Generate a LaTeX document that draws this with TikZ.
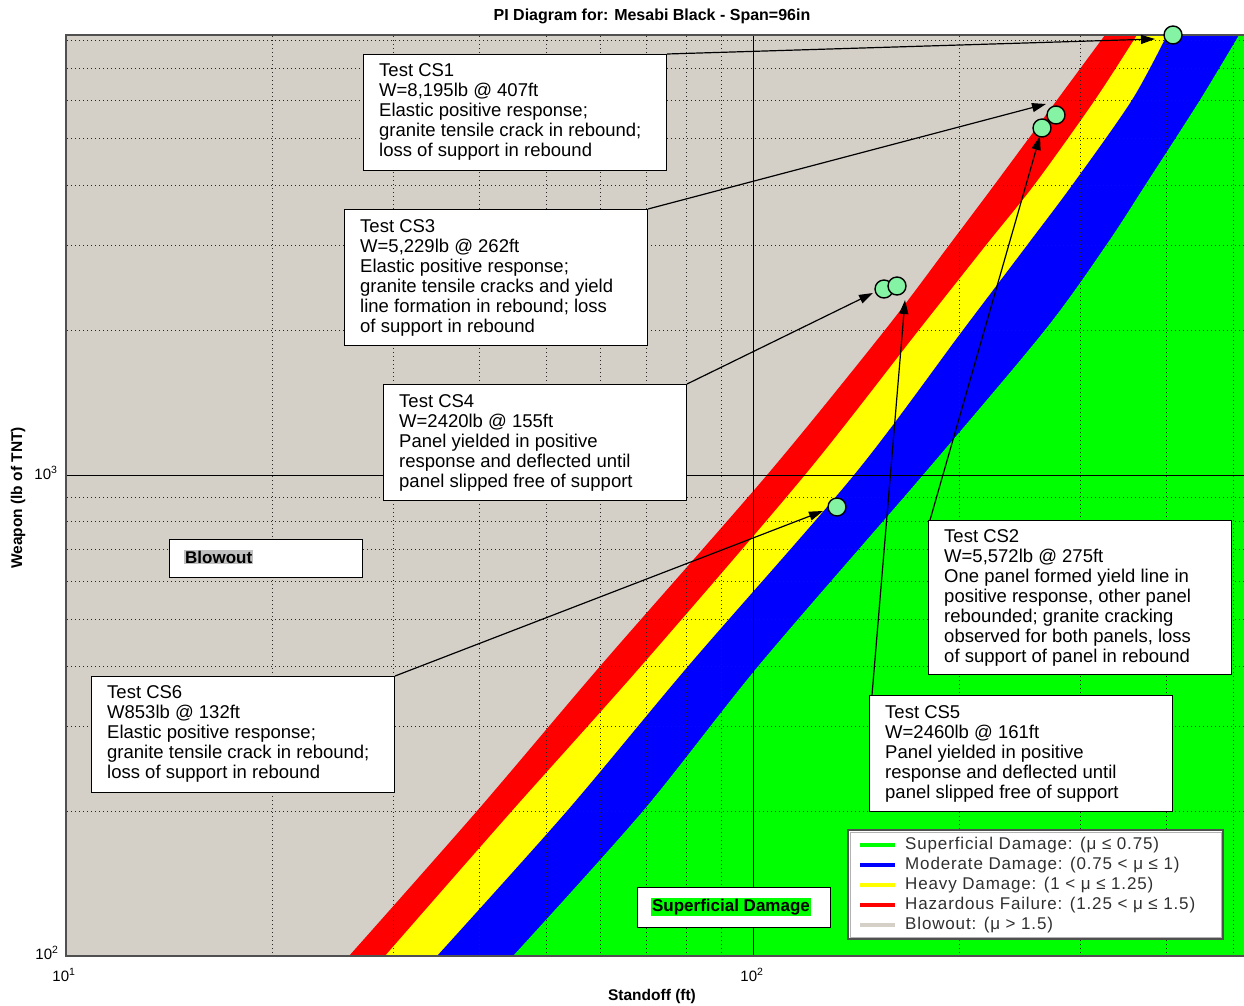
\documentclass[tikz,border=0pt]{standalone}
\usepackage{fontspec}
\setmainfont{Liberation Sans}
\usetikzlibrary{arrows.meta}
\definecolor{bgrey}{HTML}{D4D0C8}
\definecolor{pgreen}{HTML}{00FF00}
\definecolor{pred}{HTML}{FF0000}
\definecolor{pyellow}{HTML}{FFFF00}
\definecolor{pblue}{HTML}{0000FF}
\definecolor{mint}{HTML}{84F4A4}
\definecolor{frame}{HTML}{505050}
\definecolor{legtext}{HTML}{303030}
\definecolor{hlgrey}{HTML}{C0C0C0}
\tikzset{
  gridl/.style={black!85, line width=0.9pt, dash pattern=on 1pt off 3pt},
  majgrid/.style={black, line width=1pt},
  infobox/.style={draw=black, fill=white, line width=1pt, rectangle, inner sep=0pt, anchor=north west},
  infotext/.style={inner sep=0pt, anchor=north west, align=left, font=\fontsize{18.5}{20}\selectfont},
  leader/.style={black, line width=1.2pt, -{Triangle[length=14pt,width=9pt]}},
  marker/.style={circle, draw=black, fill=mint, line width=1.4pt, minimum size=18pt, inner sep=0pt},
  legline/.style={line width=4pt},
  legtxt/.style={anchor=west, inner sep=0pt, text=legtext, font=\fontsize{17}{20}\selectfont\addfontfeatures{LetterSpace=5}},
  ticklab/.style={inner sep=0pt, font=\fontsize{15}{16}\selectfont},
  axlab/.style={inner sep=0pt, font=\fontsize{15.5}{17}\selectfont\bfseries}
}
\begin{document}
\begin{tikzpicture}[x=1pt,y=-1pt]
\useasboundingbox (0,0) rectangle (1244,1005);
\fill[white] (0,0) rectangle (1244,1005);
% plot area and damage bands
\fill[bgrey] (66,35) rectangle (1244,956);
\fill[pred] plot[smooth, tension=0.5] coordinates {(349,956) (477,811) (602,664) (767,475) (885,330) (950,244) (995,184) (1057,100) (1105,35)} -- (1244,35) -- (1244,956) -- cycle;
\fill[pyellow] plot[smooth, tension=0.5] coordinates {(385,956) (512,811) (643,664) (805,475) (919,330) (987,244) (1035,184) (1095,100) (1137,35)} -- (1244,35) -- (1244,956) -- cycle;
\fill[pblue] plot[smooth, tension=0.5] coordinates {(437,956) (567,811) (690,664) (854,475) (963,330) (1028,244) (1073,184) (1132,100) (1167,35)} -- (1244,35) -- (1244,956) -- cycle;
\fill[pgreen] plot[smooth, tension=0.5] coordinates {(513,956) (643,811) (760,664) (923,475) (1045,330) (1107,244) (1146,184) (1200,100) (1239,35)} -- (1244,35) -- (1244,956) -- cycle;
% grid
\foreach \gx in {272.8,393.8,479.6,546.2,600.6,646.6,686.4,721.6,959.8,1080.8,1166.6,1233.2}
  \draw[gridl] (\gx,36) -- (\gx,955);
\foreach \gy in {811.2,726.5,666.4,619.8,581.7,549.5,521.6,497.0,330.2,245.5,185.4,138.8,100.7,68.5,40.6}
  \draw[gridl] (67,\gy) -- (1244,\gy);
\draw[majgrid] (753,35) -- (753,956);
\draw[majgrid] (66,475) -- (1244,475);
% frame
\draw[frame, line width=2pt] (1244,35) -- (66,35) -- (66,956) -- (1244,956);
% title and axis labels
\node[inner sep=0pt, font=\fontsize{16}{18}\selectfont\bfseries] (title) at (652,16) {PI Diagram for: Mesabi Black - Span=96in};
\node[axlab] (xlab) at (652,996) {Standoff (ft)};
\node[axlab, rotate=90] (ylab) at (18,498) {Weapon (lb of TNT)};
\node[ticklab] (tx1) at (64,975) {10\textsuperscript{1}};
\node[ticklab] (tx2) at (752,975) {10\textsuperscript{2}};
\node[ticklab] (ty3) at (46,473) {10\textsuperscript{3}};
\node[ticklab] (ty2) at (47,953) {10\textsuperscript{2}};
% annotation boxes
\node[infobox, minimum width=303pt, minimum height=116pt] (cs1) at (363,54) {};
\node[infotext] (cs1t) at (379,63.4) {Test CS1\\W=8,195lb @ 407ft\\Elastic positive response;\\granite tensile crack in rebound;\\loss of support in rebound};
\node[infobox, minimum width=303pt, minimum height=136pt] (cs3) at (344,209) {};
\node[infotext] (cs3t) at (360,219.4) {Test CS3\\W=5,229lb @ 262ft\\Elastic positive response;\\granite tensile cracks and yield\\line formation in rebound; loss\\of support in rebound};
\node[infobox, minimum width=303pt, minimum height=116pt] (cs4) at (383,384) {};
\node[infotext] (cs4t) at (399,394.4) {Test CS4\\W=2420lb @ 155ft\\Panel yielded in positive\\response and deflected until\\panel slipped free of support};
\node[infobox, minimum width=303pt, minimum height=116pt] (cs6) at (91,676) {};
\node[infotext] (cs6t) at (107,685.4) {Test CS6\\W853lb @ 132ft\\Elastic positive response;\\granite tensile crack in rebound;\\loss of support in rebound};
\node[infobox, minimum width=303pt, minimum height=154pt] (cs2) at (928,520) {};
\node[infotext] (cs2t) at (944,529.4) {Test CS2\\W=5,572lb @ 275ft\\One panel formed yield line in\\positive response, other panel\\rebounded; granite cracking\\observed for both panels, loss\\of support of panel in rebound};
\node[infobox, minimum width=303pt, minimum height=116pt] (cs5) at (869,695) {};
\node[infotext] (cs5t) at (885,705.4) {Test CS5\\W=2460lb @ 161ft\\Panel yielded in positive\\response and deflected until\\panel slipped free of support};
% region labels
\node[infobox, minimum width=193pt, minimum height=38pt] (blowbox) at (169,539) {};
\node[anchor=west, fill=hlgrey, inner sep=1pt, font=\fontsize{17}{18}\selectfont\bfseries] (blowtxt) at (184,557) {Blowout};
\node[infobox, minimum width=193pt, minimum height=40pt] (supbox) at (637,887) {};
\node[fill=pgreen, inner sep=1pt, font=\fontsize{17}{18}\selectfont\bfseries] (suptxt) at (731,907) {Superficial Damage};
% leader lines
\coordinate (tip1) at (1155,39);
\coordinate (tip3) at (1046,104);
\coordinate (tip4) at (873,293);
\coordinate (tip6) at (823,511);
\coordinate (tip2) at (1040,136);
\coordinate (tip5) at (905,300);
\draw[leader] (cs1.north east) -- (tip1);
\draw[leader] (cs3.north east) -- (tip3);
\draw[leader] (cs4.north east) -- (tip4);
\draw[leader] (cs6.north east) -- (tip6);
\draw[leader] ([xshift=2pt]cs2.north west) -- (tip2);
\draw[leader] ([xshift=3pt]cs5.north west) -- (tip5);
% data points
\node[marker] (p1) at (1173,35) {};
\node[marker] (p3a) at (1042,128) {};
\node[marker] (p3b) at (1056,115) {};
\node[marker] (p4a) at (884,289) {};
\node[marker] (p4b) at (897,286) {};
\node[marker] (p6) at (837,507) {};
% legend
\node[draw=frame, fill=white, line width=2pt, rectangle, inner sep=0pt, anchor=north west, minimum width=375pt, minimum height=109pt] (legend) at (847,829) {};
\draw[gray!60, line width=1pt] ([xshift=3pt,yshift=-3pt]legend.north west) rectangle ([xshift=-3pt,yshift=3pt]legend.south east);
\draw[legline, pgreen] (860,845) -- (895,845);
\draw[legline, pblue] (860,865) -- (895,865);
\draw[legline, pyellow] (860,885) -- (895,885);
\draw[legline, pred] (860,905) -- (895,905);
\draw[legline, bgrey] (860,925) -- (895,925);
\node[legtxt] (l1) at (905,845) {Superficial Damage: (μ ≤ 0.75)};
\node[legtxt] (l2) at (905,865) {Moderate Damage: (0.75 < μ ≤ 1)};
\node[legtxt] (l3) at (905,885) {Heavy Damage: (1 < μ ≤ 1.25)};
\node[legtxt] (l4) at (905,905) {Hazardous Failure: (1.25 < μ ≤ 1.5)};
\node[legtxt] (l5) at (905,925) {Blowout: (μ > 1.5)};
\end{tikzpicture}
\end{document}
